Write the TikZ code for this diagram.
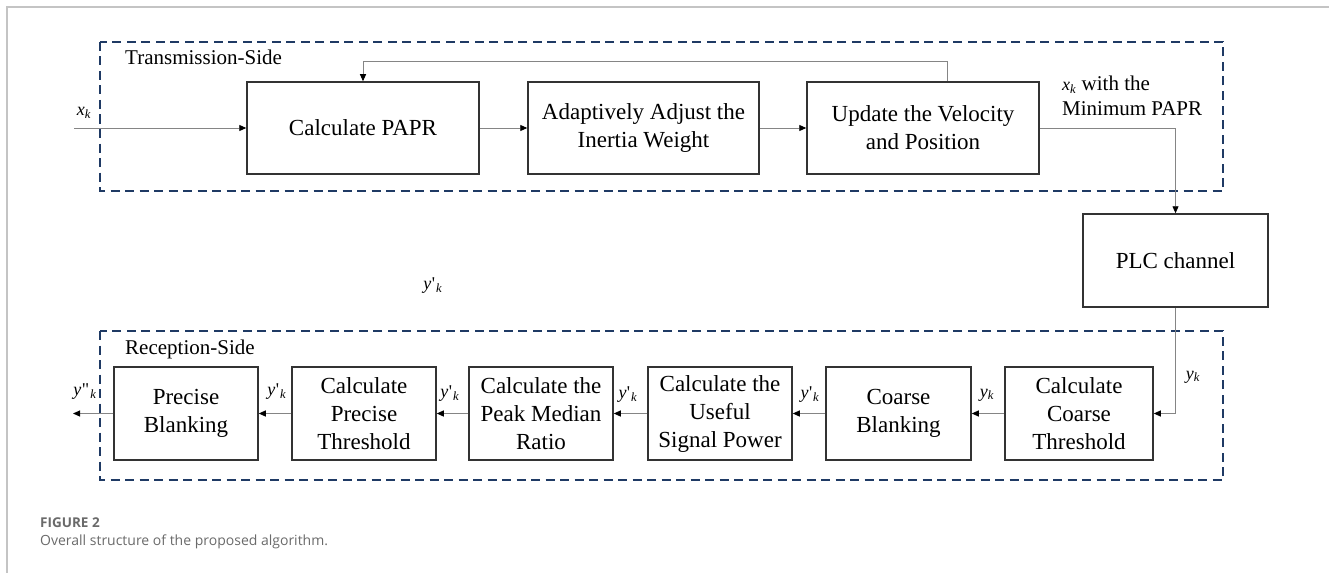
\documentclass[tikz,border=0pt]{standalone}
\usepackage{fontspec}
\setmainfont{Liberation Serif}
\newfontfamily\capfont{Open Sans}
\usetikzlibrary{arrows.meta,calc}

\definecolor{grpblue}{HTML}{1F3A64}
\definecolor{boxline}{HTML}{333333}
\definecolor{wire}{HTML}{858585}
\definecolor{framegray}{HTML}{C4C4C4}
\definecolor{capgray}{HTML}{6A6A6A}

% signal labels such as x_k, y'_k, y''_k
\newcommand\sig[2]{\textit{#1}\textsubscript{\textit{#2}}}
\newcommand\sigp[1]{\textit{#1}\kern0.5pt\textquotesingle\kern1pt\textsubscript{\textit{k}}}
\newcommand\sigpp[1]{\textit{#1}\kern0.5pt\textquotedbl\kern1pt\textsubscript{\textit{k}}}

\tikzset{
  blockbox/.style={draw=boxline, line width=1.5pt, align=center, inner sep=2pt,
    font=\fontsize{23}{28}\selectfont},
  grpbox/.style={draw=grpblue, line width=1.6pt, dash pattern=on 9pt off 5.5pt},
  conn/.style={draw=wire, line width=0.9pt,
    -{Triangle[length=7pt,width=6pt,fill=black,color=black]}},
  siglabel/.style={font=\fontsize{18}{20}\selectfont, inner sep=0pt},
  sidelabel/.style={font=\fontsize{21}{25}\selectfont, inner sep=0pt, anchor=base west},
}

\begin{document}
\begin{tikzpicture}[x=1pt,y=-1pt]
\useasboundingbox (0,0) rectangle (1329,575);

% page frame
\draw[framegray, line width=1.2pt] (1329,7) -- (7,7) -- (7,573);

% group outlines
\draw[grpbox] (100,42) rectangle (1223,191);
\draw[grpbox] (100,331) rectangle (1223,480);
\node[sidelabel] (txside) at (125,65) {Transmission-Side};
\node[sidelabel] (rxside) at (125,354) {Reception-Side};

% transmitter blocks
\node[blockbox, minimum width=232pt, minimum height=92pt] (pap) at (363,128) {Calculate PAPR};
\node[blockbox, minimum width=231pt, minimum height=92pt] (adj) at (643.5,128) {Adaptively Adjust the\\Inertia Weight};
\node[blockbox, minimum width=232pt, minimum height=92pt] (upd) at (923,128) {Update the Velocity\\and Position};

% channel
\node[blockbox, minimum width=185pt, minimum height=93pt] (plc) at (1175.5,260.5) {PLC channel};

% receiver blocks
\node[blockbox, minimum width=144pt, minimum height=93pt] (pb) at (186,413.5) {Precise\\Blanking};
\node[blockbox, minimum width=144pt, minimum height=93pt] (pt) at (364,413.5) {Calculate\\Precise\\Threshold};
\node[blockbox, minimum width=144pt, minimum height=93pt] (pm) at (541,413.5) {Calculate the\\Peak Median\\Ratio};
\node[blockbox, minimum width=144pt, minimum height=93pt] (us) at (720,413.5) {Calculate the\\Useful\\Signal Power};
\node[blockbox, minimum width=145pt, minimum height=93pt] (cb) at (898.5,413.5) {Coarse\\Blanking};
\node[blockbox, minimum width=148pt, minimum height=93pt] (ct) at (1079,413.5) {Calculate\\Coarse\\Threshold};

% free ends
\coordinate (xin) at (74,128);
\coordinate (yout) at (73,413.5);
\coordinate (fb) at (947,61);

% transmitter wiring
\draw[conn] (xin) -- (pap.west);
\draw[conn] (pap.east) -- (adj.west);
\draw[conn] (adj.east) -- (upd.west);
\draw[conn] (upd.north -| fb) -- (fb) -| (pap.north);
\draw[conn] (upd.east) -| (plc.north);

% receiver wiring
\draw[conn] (plc.south) |- (ct.east);
\draw[conn] (ct.west) -- (cb.east);
\draw[conn] (cb.west) -- (us.east);
\draw[conn] (us.west) -- (pm.east);
\draw[conn] (pm.west) -- (pt.east);
\draw[conn] (pt.west) -- (pb.east);
\draw[conn] (pb.west) -- (yout);

% signal labels
\node[siglabel] (lxk) at (84,113) {\sig{x}{k}};
\node[font=\fontsize{21}{25}\selectfont, inner sep=0pt, align=left, anchor=north west] (lmin) at (1062,76)
  {{\fontsize{18}{20}\selectfont\sig{x}{k}} with the\\Minimum PAPR};
\node[siglabel] (lyk1) at (1193,377) {\sig{y}{k}};
\node[siglabel] (lyk2) at (987,395) {\sig{y}{k}};
\node[siglabel] (lyp1) at (810,395) {\sigp{y}};
\node[siglabel] (lyp2) at (628,395) {\sigp{y}};
\node[siglabel] (lyp3) at (450,394) {\sigp{y}};
\node[siglabel] (lyp4) at (277,392) {\sigp{y}};
\node[siglabel] (lypp) at (85,392) {\sigpp{y}};
\node[siglabel] (lyp0) at (433,286) {\sigp{y}};

% caption
\node[font=\capfont\bfseries\fontsize{13.5}{16}\selectfont, text=capgray, anchor=base west, inner sep=0pt] (capnum) at (40,527) {FIGURE 2};
\node[font=\capfont\fontsize{14}{17}\selectfont, text=capgray, anchor=base west, inner sep=0pt] (captxt) at (40,545) {Overall structure of the proposed algorithm.};
\end{tikzpicture}
\end{document}
